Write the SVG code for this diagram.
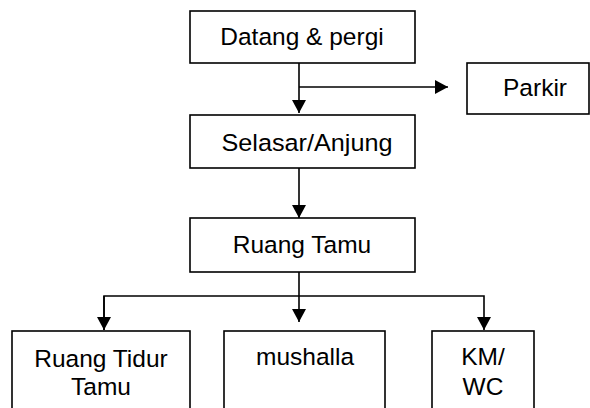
<svg xmlns="http://www.w3.org/2000/svg" width="590" height="408" viewBox="0 0 590 408">
<defs>
<style>
.box{fill:#fff;stroke:#000;stroke-width:1.6}
.t{font-family:"Liberation Sans",Arial,sans-serif;font-size:24.5px;fill:#000;text-anchor:middle}
.c{fill:none;stroke:#000;stroke-width:1.6}
</style>
<marker id="ah" markerUnits="userSpaceOnUse" markerWidth="14" markerHeight="14" refX="13" refY="7" orient="auto">
<path d="M0,0 L13,7 L0,14 Z" fill="#000"/>
</marker>
</defs>
<rect width="590" height="408" fill="#fff"/>
<g id="connectors">
<path class="c" d="M299,63 V113" marker-end="url(#ah)"/>
<path class="c" d="M299,87 H448" marker-end="url(#ah)"/>
<path class="c" d="M299,168 V218" marker-end="url(#ah)"/>
<path class="c" d="M299,272 V322" marker-end="url(#ah)"/>
<path class="c" d="M104,330 V296 H484 V330" marker-end="url(#ah)"/>
<path class="c" d="M104,296 V330" marker-end="url(#ah)"/>
</g>
<g id="datang">
<rect class="box" x="190" y="11" width="225" height="52"/>
<text class="t" x="302" y="45">Datang &amp; pergi</text>
</g>
<g id="parkir">
<rect class="box" x="467" y="63" width="122" height="51"/>
<text class="t" x="535" y="96">Parkir</text>
</g>
<g id="selasar">
<rect class="box" x="190" y="115" width="225" height="53"/>
<text class="t" x="307" y="151" textLength="171" lengthAdjust="spacingAndGlyphs">Selasar/Anjung</text>
</g>
<g id="ruang-tamu">
<rect class="box" x="190" y="218" width="225" height="54"/>
<text class="t" x="302" y="253">Ruang Tamu</text>
</g>
<g id="ruang-tidur-tamu">
<rect class="box" x="12" y="331" width="178" height="85"/>
<text class="t" x="101" y="367">Ruang Tidur</text>
<text class="t" x="101" y="395">Tamu</text>
</g>
<g id="mushalla">
<rect class="box" x="224" y="331" width="161" height="85"/>
<text class="t" x="305" y="365">mushalla</text>
</g>
<g id="km-wc">
<rect class="box" x="432" y="331" width="102" height="85"/>
<text class="t" x="483" y="365">KM/</text>
<text class="t" x="483" y="395">WC</text>
</g>
</svg>
